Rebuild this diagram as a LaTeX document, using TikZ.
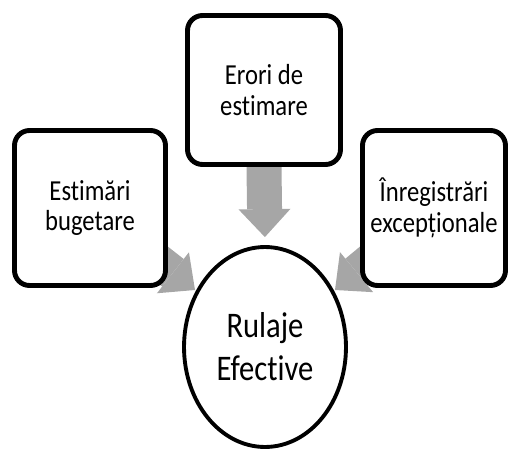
\documentclass[tikz,border=0pt]{standalone}
\usepackage{fontspec}
\setmainfont[FakeStretch=0.85,Ligatures={NoCommon,NoContextual},Contextuals=NoAlternate]{Carlito}
\usetikzlibrary{arrows.meta,shapes.geometric,backgrounds}
\definecolor{arrowgray}{HTML}{A6A6A6}
\newcommand\nolig{\kern0pt\relax}
\begin{document}
\begin{tikzpicture}[x=0.02cm, y=-0.02cm,
  box/.style={draw, line width=2.8pt, rounded corners=0.3cm, fill=white, align=center,
    inner sep=0pt, font=\fontsize{16.5}{17.5}\selectfont},
  fat/.style={arrowgray, line width=0.7cm,
    -{Triangle[length=0.56cm, width=1.04cm, line width=0pt]}}]
\useasboundingbox (0,0) rectangle (511,450);
\node[box, minimum width=3.02cm, minimum height=3.1cm] (budget) at (90,208) {Est\nolig imări\\bugetare};
\node[box, minimum width=3.06cm, minimum height=2.98cm] (errors) at (264,90) {Erori de\\est\nolig imare};
\node[box, minimum width=2.86cm, minimum height=3.1cm] (records) at (434,208) {Înregistrări\\excepționale};
\node[draw, ellipse, line width=2.2pt, fill=white, inner sep=0pt, align=center,
  minimum width=3.24cm, minimum height=4cm, font=\fontsize{20.5}{24.4}\selectfont]
  (turnover) at (265,347) {Rulaje\\Efect\nolig ive};
\coordinate (ltip) at (195,290);
\coordinate (rtip) at (335,290);
\begin{scope}[on background layer]
  \draw[fat, shorten >=0.16cm] (errors.south) -- (turnover.north);
  \draw[fat] (budget.center) -- (ltip);
  \draw[fat] (records.center) -- (rtip);
\end{scope}
\end{tikzpicture}
\end{document}
